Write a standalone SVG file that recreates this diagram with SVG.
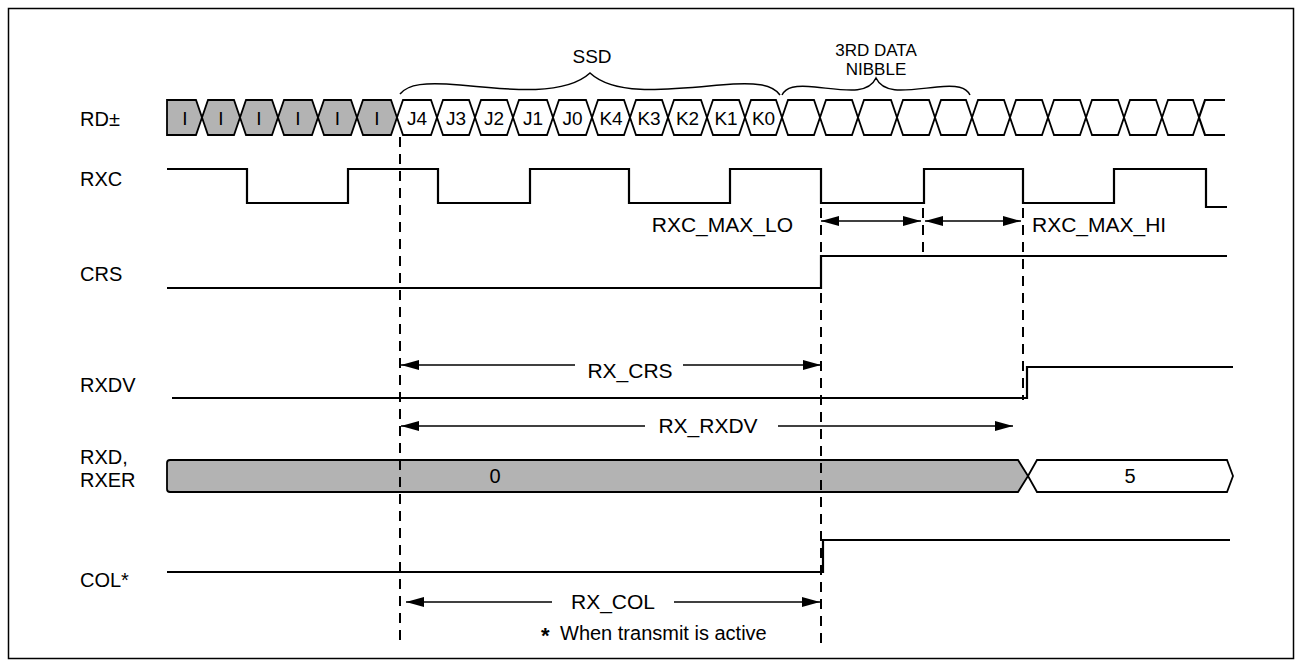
<svg xmlns="http://www.w3.org/2000/svg" width="1302" height="667" viewBox="0 0 1302 667">
<style>
text{font-family:"Liberation Sans",Arial,sans-serif;fill:#000}
.lbl{font-size:20px}
.hx{font-size:19px;text-anchor:middle}
.ann{font-size:21px}
.wave{fill:none;stroke:#000;stroke-width:2.2}
.dash{fill:none;stroke:#000;stroke-width:2;stroke-dasharray:10,7}
.arr{fill:none;stroke:#000;stroke-width:1.5}
.gray{fill:#b3b3b3;stroke:#000;stroke-width:1.8}
.white{fill:#fff;stroke:#000;stroke-width:1.8}
.brace{fill:none;stroke:#000;stroke-width:1.5}
</style>
<defs>
<marker id="ah" markerUnits="userSpaceOnUse" markerWidth="18" markerHeight="10" refX="18" refY="5" orient="auto-start-reverse">
<path d="M0,0 L18,5 L0,10 z" fill="#000"/>
</marker>
</defs>
<rect x="8.5" y="8.5" width="1285" height="650" fill="#fff" stroke="#000" stroke-width="1.5"/>

<g id="labels">
<text class="lbl" x="80" y="126">RD±</text>
<text class="lbl" x="80" y="186">RXC</text>
<text class="lbl" x="80" y="281">CRS</text>
<text class="lbl" x="80" y="392">RXDV</text>
<text class="lbl" x="80" y="464">RXD,</text>
<text class="lbl" x="80" y="487">RXER</text>
<text class="lbl" x="80" y="587">COL*</text>
</g>

<g id="rd">
<polygon class="gray" points="167,100 196,100 202,117.5 196,135 167,135"/>
<polygon class="gray" points="202,117.5 208,100 234,100 240,117.5 234,135 208,135"/>
<polygon class="gray" points="240,117.5 246,100 272,100 278,117.5 272,135 246,135"/>
<polygon class="gray" points="278,117.5 284,100 312,100 318,117.5 312,135 284,135"/>
<polygon class="gray" points="318,117.5 324,100 351,100 357,117.5 351,135 324,135"/>
<polygon class="gray" points="357,117.5 363,100 391,100 397,117.5 391,135 363,135"/>
<polygon class="white" points="397,117.5 403,100 431,100 437,117.5 431,135 403,135"/>
<polygon class="white" points="437,117.5 443,100 469,100 475,117.5 469,135 443,135"/>
<polygon class="white" points="475,117.5 481,100 507,100 513,117.5 507,135 481,135"/>
<polygon class="white" points="513,117.5 519,100 547,100 553,117.5 547,135 519,135"/>
<polygon class="white" points="553,117.5 559,100 586,100 592,117.5 586,135 559,135"/>
<polygon class="white" points="592,117.5 598,100 624,100 630,117.5 624,135 598,135"/>
<polygon class="white" points="630,117.5 636,100 662,100 668,117.5 662,135 636,135"/>
<polygon class="white" points="668,117.5 674,100 701,100 707,117.5 701,135 674,135"/>
<polygon class="white" points="707,117.5 713,100 739,100 745,117.5 739,135 713,135"/>
<polygon class="white" points="745,117.5 751,100 776,100 782,117.5 776,135 751,135"/>
<polygon class="white" points="782,117.5 788,100 814,100 820,117.5 814,135 788,135"/>
<polygon class="white" points="820,117.5 826,100 852,100 858,117.5 852,135 826,135"/>
<polygon class="white" points="858,117.5 864,100 891,100 897,117.5 891,135 864,135"/>
<polygon class="white" points="897,117.5 903,100 929,100 935,117.5 929,135 903,135"/>
<polygon class="white" points="935,117.5 941,100 966,100 972,117.5 966,135 941,135"/>
<polygon class="white" points="972,117.5 978,100 1004,100 1010,117.5 1004,135 978,135"/>
<polygon class="white" points="1010,117.5 1016,100 1042,100 1048,117.5 1042,135 1016,135"/>
<polygon class="white" points="1048,117.5 1054,100 1080,100 1086,117.5 1080,135 1054,135"/>
<polygon class="white" points="1086,117.5 1092,100 1118,100 1124,117.5 1118,135 1092,135"/>
<polygon class="white" points="1124,117.5 1130,100 1156,100 1162,117.5 1156,135 1130,135"/>
<polygon class="white" points="1162,117.5 1168,100 1193,100 1199,117.5 1193,135 1168,135"/>
<path class="wave" d="M1199,117.5 L1205,100 H1225 M1199,117.5 L1205,135 H1225" stroke-width="1.8"/>
<text class="hx" x="185" y="125">I</text>
<text class="hx" x="221" y="125">I</text>
<text class="hx" x="259" y="125">I</text>
<text class="hx" x="298" y="125">I</text>
<text class="hx" x="337.5" y="125">I</text>
<text class="hx" x="377" y="125">I</text>
<text class="hx" x="417" y="125">J4</text>
<text class="hx" x="456" y="125">J3</text>
<text class="hx" x="494" y="125">J2</text>
<text class="hx" x="533" y="125">J1</text>
<text class="hx" x="572.5" y="125">J0</text>
<text class="hx" x="611" y="125">K4</text>
<text class="hx" x="649" y="125">K3</text>
<text class="hx" x="687.5" y="125">K2</text>
<text class="hx" x="726" y="125">K1</text>
<text class="hx" x="763.5" y="125">K0</text>
</g>

<g id="braces">
<path class="brace" d="M400,94 C408,84 425,82 460,85 C510,90 565,96 590,73 C615,96 665,90 720,85 C755,82 772,84 780,95"/>
<text x="592" y="63" font-size="19" text-anchor="middle">SSD</text>
<path class="brace" d="M782,95 C786,87 795,85 815,87 C845,90 868,95 876,78 C884,95 907,90 937,87 C957,85 966,87 970,95"/>
<text x="876" y="56" font-size="17" text-anchor="middle">3RD DATA</text>
<text x="876" y="75" font-size="17" text-anchor="middle">NIBBLE</text>
</g>

<g id="rxc">
<path class="wave" d="M167,169 H247 V203 H348 V169 H438 V203 H530 V169 H629 V203 H730 V169 H821 V203 H924 V169 H1023 V203 H1114 V169 H1206 V207 H1227"/>
</g>
<g id="crs">
<path class="wave" d="M167,288 H821 V256 H1227"/>
</g>
<g id="rxdv">
<path class="wave" d="M172,398 H1027 V367 H1233"/>
</g>
<g id="rxd">
<path class="gray" d="M170,460 H1018 L1028,476 L1018,492 H170 Q167,492 167,489 V463 Q167,460 170,460 Z"/>
<polygon class="white" points="1028,476 1037,460 1227,460 1233,476 1227,492 1037,492"/>
<text x="495" y="483" font-size="20" text-anchor="middle">0</text>
<text x="1130" y="483" font-size="20" text-anchor="middle">5</text>
</g>
<g id="col">
<path class="wave" d="M167,572 H823 V540 H1230"/>
</g>

<g id="connectors">
<line class="dash" x1="400" y1="137" x2="400" y2="645"/>
<line class="dash" x1="821" y1="208" x2="821" y2="645"/>
<line class="dash" x1="923" y1="208" x2="923" y2="258"/>
<line class="dash" x1="1023" y1="208" x2="1023" y2="400"/>

<line class="arr" x1="821" y1="221" x2="921" y2="221" marker-start="url(#ah)" marker-end="url(#ah)"/>
<line class="arr" x1="925" y1="221" x2="1021" y2="221" marker-start="url(#ah)" marker-end="url(#ah)"/>
<text class="ann" x="793" y="232" text-anchor="end">RXC_MAX_LO</text>
<text class="ann" x="1032" y="232">RXC_MAX_HI</text>

<line class="arr" x1="401" y1="365" x2="575" y2="365" marker-start="url(#ah)"/>
<line class="arr" x1="683" y1="365" x2="821" y2="365" marker-end="url(#ah)"/>
<text class="ann" x="630" y="378" text-anchor="middle">RX_CRS</text>

<line class="arr" x1="401" y1="426" x2="645" y2="426" marker-start="url(#ah)"/>
<line class="arr" x1="778" y1="426" x2="1013" y2="426" marker-end="url(#ah)"/>
<text class="ann" x="708" y="433" text-anchor="middle">RX_RXDV</text>

<line class="arr" x1="406" y1="602" x2="552" y2="602" marker-start="url(#ah)"/>
<line class="arr" x1="674" y1="602" x2="820" y2="602" marker-end="url(#ah)"/>
<text class="ann" x="613" y="609" text-anchor="middle">RX_COL</text>
<text x="541" y="643" font-size="22" font-weight="bold">*</text>
<text x="560" y="640" font-size="20">When transmit is active</text>
</g>
</svg>
